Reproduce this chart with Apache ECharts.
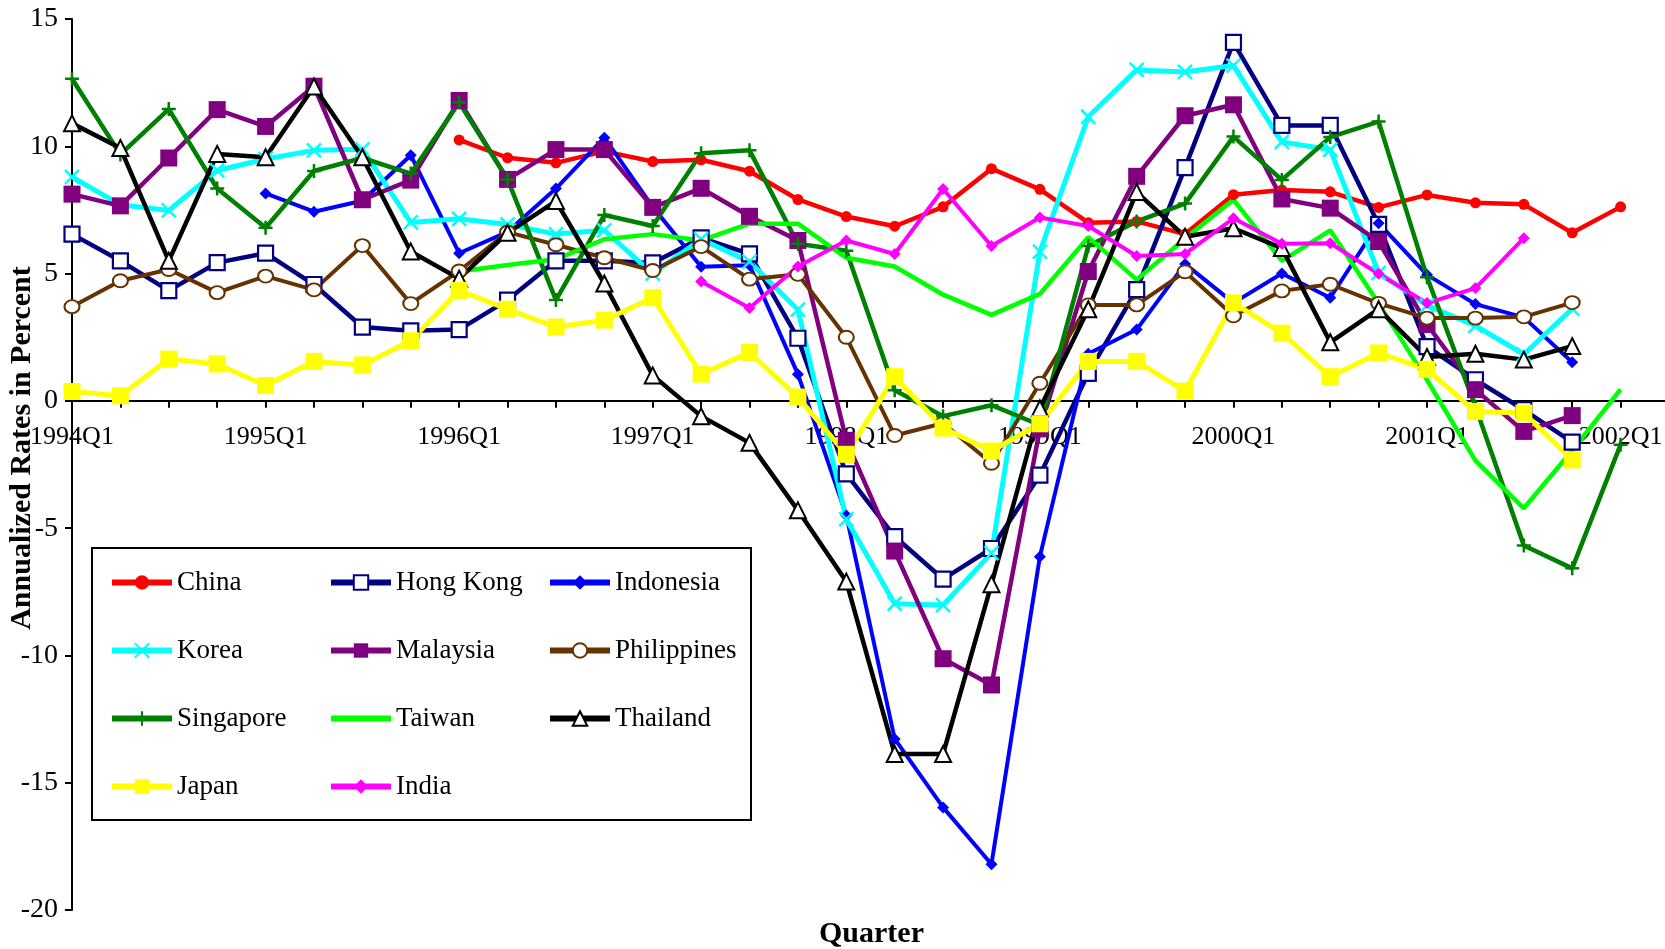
<!DOCTYPE html>
<html><head><meta charset="utf-8">
<script src="https://cdn.jsdelivr.net/npm/echarts@6.0.0/dist/echarts.min.js"></script>
<style>html,body{margin:0;padding:0;background:#fff}#c{width:1665px;height:949px}</style>
</head><body><div id="c"></div>
<script>
const quarters = ['1994Q1','1994Q2','1994Q3','1994Q4','1995Q1','1995Q2','1995Q3','1995Q4',
  '1996Q1','1996Q2','1996Q3','1996Q4','1997Q1','1997Q2','1997Q3','1997Q4',
  '1998Q1','1998Q2','1998Q3','1998Q4','1999Q1','1999Q2','1999Q3','1999Q4',
  '2000Q1','2000Q2','2000Q3','2000Q4','2001Q1','2001Q2','2001Q3','2001Q4',
  '2002Q1','2002Q2'];
const yMin = -20, yMax = 15, yStep = 5;

const china = [null,null,null,null,null,null,null,null,
  10.25,9.55,9.35,9.8,9.4,9.47,9.02,7.91,7.24,6.86,7.62,9.12,8.31,7.0,7.05,6.55,
  8.1,8.28,8.21,7.6,8.09,7.78,7.72,6.6,7.62];
const hongKong = [6.55,5.5,4.33,5.43,5.8,4.57,2.9,2.75,2.8,3.96,5.5,5.5,5.42,6.4,5.77,2.46,
  -2.87,-5.33,-7.0,-5.8,-2.92,1.08,4.37,9.16,14.08,10.82,10.82,6.93,2.13,0.83,-0.35,-1.62];
const indonesia = [null,null,null,null,
  8.15,7.43,7.86,9.65,5.8,6.64,8.34,10.34,7.62,5.27,5.33,1.05,
  -4.5,-13.28,-15.97,-18.2,-6.12,1.85,2.8,5.38,3.85,5.0,4.05,6.98,4.95,3.8,3.28,1.52];
const korea = [8.8,7.7,7.48,9.05,9.5,9.84,9.88,7.01,7.15,6.93,6.55,6.7,5.0,6.35,5.47,3.58,
  -4.65,-7.97,-8.02,-5.98,5.86,11.16,13.0,12.92,13.17,10.17,9.87,5.03,3.75,2.95,1.83,3.62];
const malaysia = [8.12,7.66,9.54,11.44,10.78,12.36,7.9,8.67,11.8,8.7,9.87,9.87,7.6,8.35,7.25,6.3,
  -1.55,-5.9,-10.13,-11.16,-1.1,5.08,8.82,11.2,11.63,7.93,7.57,6.26,3.0,0.44,-1.2,-0.58];
const philippines = [3.7,4.72,5.16,4.25,4.9,4.36,6.1,3.82,5.1,6.63,6.13,5.62,5.12,6.06,4.78,4.97,
  2.5,-1.36,-0.88,-2.45,0.69,3.77,3.77,5.07,3.34,4.32,4.58,3.83,3.25,3.25,3.3,3.86];
const singapore = [12.65,9.68,11.46,8.34,6.8,9.03,9.54,8.93,11.72,8.7,3.96,7.3,6.87,9.73,9.84,6.17,
  5.9,0.42,-0.6,-0.17,-0.95,6.08,7.05,7.75,10.38,8.68,10.36,10.97,4.86,-0.22,-5.68,-6.58,-1.72];
const taiwan = [null,null,null,null,null,null,null,null,
  5.08,5.34,5.56,6.35,6.55,6.3,6.96,6.96,5.62,5.28,4.17,3.38,4.2,6.43,4.76,6.38,
  7.9,5.5,6.7,3.82,0.82,-2.35,-4.22,-1.95,0.45];
const thailand = [10.9,9.93,5.5,9.7,9.57,12.35,9.57,5.87,4.8,6.6,7.85,4.61,1.0,-0.6,-1.65,-4.3,
  -7.1,-13.87,-13.87,-7.2,-0.3,3.6,8.2,6.45,6.78,6.0,2.3,3.6,1.72,1.85,1.62,2.15];
const japan = [0.37,0.2,1.64,1.45,0.6,1.55,1.41,2.36,4.34,3.6,2.9,3.17,4.05,1.05,1.9,0.15,
  -2.1,0.95,-1.07,-1.97,-0.9,1.55,1.55,0.38,3.85,2.66,0.95,1.88,1.24,-0.42,-0.48,-2.32];
const india = [null,null,null,null,null,null,null,null,null,null,null,null,null,
  4.69,3.65,5.28,6.3,5.77,8.32,6.08,7.2,6.87,5.69,5.77,7.17,6.17,6.19,4.99,3.84,4.43,6.39];

const FONT = 'Liberation Serif';
const X_PATH = 'path://M0,0L10,10M10,0L0,10';
const PLUS_PATH = 'path://M5,0L5,10M0,5L10,5';

// layout constants (pixels)
const GRID_TOP = 19, GRID_BOTTOM = 39, CHART_H = 949;
const gridH = CHART_H - GRID_TOP - GRID_BOTTOM;
const zeroOffset = -gridH * (0 - yMin) / (yMax - yMin);

function line(name, data, color, symbol, size, fill, opts) {
  opts = opts || {};
  return {
    name: name, type: 'line', data: data,
    symbol: symbol, symbolSize: size, showSymbol: opts.noSymbol ? false : true,
    lineStyle: { color: color, width: opts.width || 4.5 },
    itemStyle: { color: fill, borderColor: color, borderWidth: opts.border || 0 },
    emphasis: { disabled: true },
    z: 2
  };
}

const series = [
  line('China', china, '#FF0000', 'circle', 11, '#FF0000'),
  line('Hong Kong', hongKong, '#000080', 'rect', 15, '#FFFFFF', {border: 2.2, width: 4.5}),
  line('Indonesia', indonesia, '#0000FF', 'diamond', 12, '#0000FF', {width: 4}),
  line('Korea', korea, '#00FFFF', X_PATH, 14, 'rgba(0,0,0,0)', {border: 2.5, width: 5}),
  line('Malaysia', malaysia, '#800080', 'rect', 17, '#800080', {width: 4.5}),
  line('Philippines', philippines, '#663300', 'circle', [15, 13], '#FFFFFF', {border: 2, width: 4}),
  line('Singapore', singapore, '#008000', PLUS_PATH, 14, 'rgba(0,0,0,0)', {border: 2.5, width: 4.5}),
  line('Taiwan', taiwan, '#00FF00', 'circle', 0, 'rgba(0,0,0,0)', {width: 4.5, noSymbol: true}),
  line('Thailand', thailand, '#000000', 'triangle', 16, '#FFFFFF', {border: 2, width: 4.5}),
  line('Japan', japan, '#FFFF00', 'rect', 17, '#FFFF00', {width: 5}),
  line('India', india, '#FF00FF', 'diamond', 12, '#FF00FF', {width: 4})
];

const chart = echarts.init(document.getElementById('c'), null, {renderer: 'canvas'});
chart.setOption({
  animation: false,
  backgroundColor: '#FFFFFF',
  title: {
    text: 'Quarter', left: 814, top: 914,
    textStyle: { fontFamily: FONT, fontSize: 30, fontWeight: 'bold', color: '#000' }
  },
  grid: { left: 72, right: -4, top: GRID_TOP, bottom: GRID_BOTTOM, outerBoundsMode: 'none', containLabel: false },
  legend: {
    left: 92, top: 548, width: 680, orient: 'horizontal',
    padding: [11, 6, 10, 17], itemWidth: 60, itemHeight: 18, itemGap: 21,
    borderColor: '#000', borderWidth: 2, backgroundColor: '#FFFFFF',
    selectedMode: false,
    lineStyle: { width: 6 },
    data: ['China','Hong Kong','Indonesia','Korea','Malaysia','Philippines','Singapore','Taiwan','Thailand','Japan','India'],
    textStyle: { fontFamily: FONT, fontSize: 27, color: '#000', width: 130, lineHeight: 47 }
  },
  xAxis: {
    type: 'category', data: quarters, boundaryGap: false,
    offset: zeroOffset,
    axisLine: { onZero: false, lineStyle: { color: '#000', width: 2 } },
    axisTick: { show: true, interval: 0, length: 7, inside: false, lineStyle: { color: '#000', width: 2 } },
    axisLabel: { interval: 3, margin: 23, fontFamily: FONT, fontSize: 26, color: '#000' },
    splitLine: { show: false }
  },
  yAxis: {
    type: 'value', min: yMin, max: yMax, interval: yStep,
    name: 'Annualized Rates in Percent', nameLocation: 'middle', nameRotate: 90, nameGap: 35,
    nameMoveOverlap: false,
    nameTextStyle: { fontFamily: FONT, fontSize: 30, fontWeight: 'bold', color: '#000', padding: [0, 0, 0, 33] },
    axisLine: { show: true, lineStyle: { color: '#000', width: 2 } },
    axisTick: { show: true, length: 7, lineStyle: { color: '#000', width: 2 } },
    axisLabel: { margin: 14, fontFamily: FONT, fontSize: 28, color: '#000' },
    splitLine: { show: false }
  },
  series: series
});
</script></body></html>
